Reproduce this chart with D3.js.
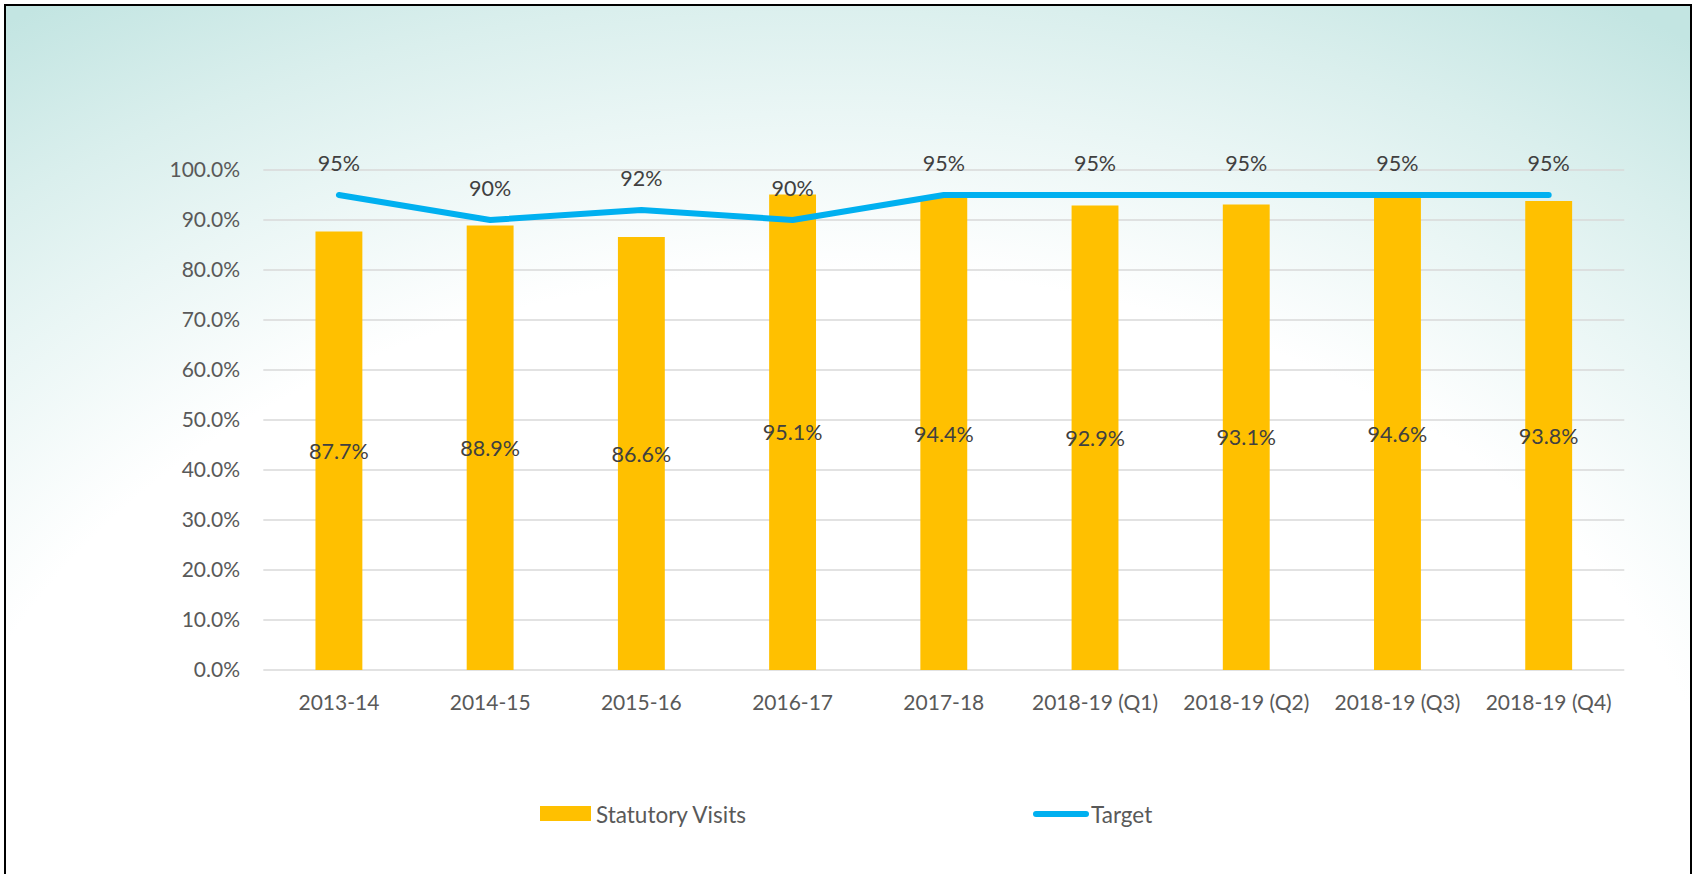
<!DOCTYPE html>
<html>
<head>
<meta charset="utf-8">
<script src="https://cdn.jsdelivr.net/npm/d3@7"></script>
<style>
  html, body { margin: 0; padding: 0; background: #ffffff; }
  svg { display: block; }
  text { font-family: Lato, "Open Sans", sans-serif; }
</style>
</head>
<body>
<svg id="chart" width="1694" height="874"></svg>
<script>
const categories = ["2013-14", "2014-15", "2015-16", "2016-17", "2017-18", "2018-19 (Q1)", "2018-19 (Q2)", "2018-19 (Q3)", "2018-19 (Q4)"];
const statutoryVisits = [87.7, 88.9, 86.6, 95.1, 94.4, 92.9, 93.1, 94.6, 93.8];
const target = [95, 90, 92, 90, 95, 95, 95, 95, 95];
const yTicks = [0, 10, 20, 30, 40, 50, 60, 70, 80, 90, 100];
const seriesNames = ["Statutory Visits", "Target"];

const W = 1694, H = 874;
const plot = { left: 263.3, right: 1624.3, top: 170, bottom: 670 };
const svg = d3.select("#chart");

// background gradient
const defs = svg.append("defs");
const grad = defs.append("radialGradient")
  .attr("id", "bg")
  .attr("gradientUnits", "userSpaceOnUse")
  .attr("cx", 0).attr("cy", 0).attr("r", 1)
  .attr("gradientTransform", "translate(830,900) scale(1500,1050)");
[[0, "#ffffff"], [0.6, "#ffffff"], [0.75, "#eaf6f5"], [0.86, "#daefed"], [1, "#c3e5e2"]]
  .forEach(([o, c]) => grad.append("stop").attr("offset", o).attr("stop-color", c));

svg.append("rect").attr("x", 0).attr("y", 0).attr("width", W).attr("height", H).attr("fill", "#ffffff");
svg.append("rect").attr("x", 5).attr("y", 5).attr("width", 1686).attr("height", 900)
  .attr("fill", "url(#bg)").attr("stroke", "#000000").attr("stroke-width", 2);

const x = d3.scaleBand().domain(categories).range([plot.left, plot.right]).padding(0);
const y = d3.scaleLinear().domain([0, 100]).range([plot.bottom, plot.top]);
const barFrac = 0.31;
const barW = x.bandwidth() * barFrac;
const cx = d => x(d) + x.bandwidth() / 2;

// gridlines
svg.append("g").selectAll("line").data(yTicks).join("line")
  .attr("x1", plot.left).attr("x2", plot.right)
  .attr("y1", d => y(d)).attr("y2", d => y(d))
  .attr("stroke", "#d9d9d9").attr("stroke-width", 1.5);

// y axis labels
const yAxis = d3.axisLeft(y).tickValues(yTicks).tickFormat(d => d.toFixed(1) + "%").tickSize(0).tickPadding(0);
const ya = svg.append("g").attr("transform", `translate(240,0)`).call(yAxis);
ya.select(".domain").remove();
ya.selectAll("text").attr("font-size", 21).attr("fill", "#595959").attr("font-family", "Lato, 'Open Sans', sans-serif");

// x axis labels
const xAxis = d3.axisBottom(x).tickSize(0).tickPadding(0);
const xa = svg.append("g").attr("transform", `translate(0,${plot.bottom})`).call(xAxis);
xa.select(".domain").remove();
xa.selectAll("text").attr("font-size", 21).attr("fill", "#595959")
  .attr("font-family", "Lato, 'Open Sans', sans-serif")
  .attr("dy", null).attr("y", 31).attr("dominant-baseline", "central");

// bars
svg.append("g").selectAll("rect").data(categories).join("rect")
  .attr("x", d => cx(d) - barW / 2)
  .attr("width", barW)
  .attr("y", (d, i) => y(statutoryVisits[i]))
  .attr("height", (d, i) => y(0) - y(statutoryVisits[i]))
  .attr("fill", "#ffc000");

// target line
const line = d3.line().x((d, i) => cx(categories[i])).y(d => y(d));
svg.append("path").datum(target).attr("d", line)
  .attr("fill", "none").attr("stroke", "#00b0f0").attr("stroke-width", 6)
  .attr("stroke-linecap", "round").attr("stroke-linejoin", "round");

// bar labels
svg.append("g").selectAll("text").data(categories).join("text")
  .attr("x", d => cx(d))
  .attr("y", (d, i) => y(statutoryVisits[i] / 2))
  .attr("text-anchor", "middle").attr("dominant-baseline", "central")
  .attr("font-size", 21.5).attr("fill", "#404040")
  .text((d, i) => statutoryVisits[i].toFixed(1) + "%");

// target labels
svg.append("g").selectAll("text").data(categories).join("text")
  .attr("x", d => cx(d))
  .attr("y", (d, i) => y(target[i]) - 32)
  .attr("text-anchor", "middle").attr("dominant-baseline", "central")
  .attr("font-size", 21.5).attr("fill", "#404040")
  .text((d, i) => target[i] + "%");

// legend
const lg = svg.append("g");
lg.append("rect").attr("x", 540).attr("y", 806).attr("width", 51).attr("height", 15).attr("fill", "#ffc000");
lg.append("text").attr("x", 596).attr("y", 814).attr("dominant-baseline", "central")
  .attr("font-size", 22.5).attr("fill", "#595959").text(seriesNames[0]);
lg.append("line").attr("x1", 1036).attr("x2", 1086).attr("y1", 814).attr("y2", 814)
  .attr("stroke", "#00b0f0").attr("stroke-width", 6).attr("stroke-linecap", "round");
lg.append("text").attr("x", 1091).attr("y", 814).attr("dominant-baseline", "central")
  .attr("font-size", 22.5).attr("fill", "#595959").text(seriesNames[1]);
</script>
</body>
</html>
